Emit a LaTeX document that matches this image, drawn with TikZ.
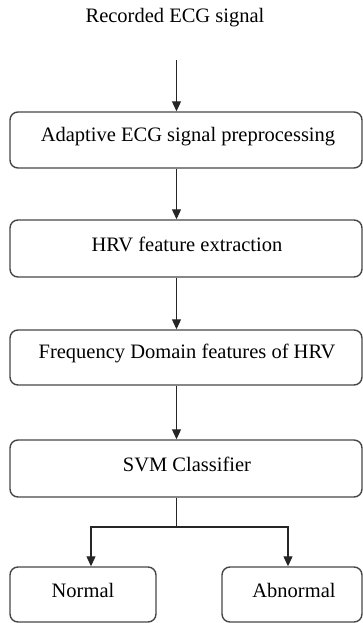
\documentclass[tikz,border=0pt]{standalone}
\usepackage{fontspec}
\setmainfont{Liberation Serif}
\usetikzlibrary{arrows.meta}
\begin{document}
\begin{tikzpicture}[x=1pt,y=-1pt,
  box/.style={draw=black!72,line width=1.4pt,rounded corners=8pt,inner sep=0pt},
  lbl/.style={font=\fontsize{20.5}{24}\selectfont},
  arr/.style={draw=black!85,line width=1.1pt,-{Triangle[length=10pt,width=9pt]}},
  ln/.style={draw=black!85,line width=1.1pt}]
\useasboundingbox (0,0) rectangle (363,623);
\coordinate (ax) at (176.5,0);
\node[lbl] (title) at (175,18) {Recorded ECG signal};
\coordinate (start) at (176.5,60);
\node[box,minimum width=352pt,minimum height=56pt] (b1) at (186,140) {};
\node[lbl] (t1) at (188,137) {Adaptive ECG signal preprocessing};
\node[box,minimum width=352pt,minimum height=57pt] (b2) at (186,248.5) {};
\node[lbl] (t2) at (187,244) {HRV feature extraction};
\node[box,minimum width=352pt,minimum height=55pt] (b3) at (186,357.5) {};
\node[lbl] (t3) at (187,353) {Frequency Domain features of HRV};
\node[box,minimum width=352pt,minimum height=57pt] (b4) at (186,468.5) {};
\node[lbl] (t4) at (187,464) {SVM Classifier};
\node[box,minimum width=146pt,minimum height=55pt] (n) at (83,594.5) {};
\node[lbl] (tn) at (83,590) {Normal};
\node[box,minimum width=140pt,minimum height=55pt] (ab) at (292,594.5) {};
\node[lbl] (tab) at (294,590) {Abnormal};
\coordinate (split) at (176.5,527);
\draw[arr] (start) -- (b1.north -| ax);
\draw[arr] (b1.south -| ax) -- (b2.north -| ax);
\draw[arr] (b2.south -| ax) -- (b3.north -| ax);
\draw[arr] (b3.south -| ax) -- (b4.north -| ax);
\draw[ln] (b4.south -| ax) -- (split);
\draw[arr] (split) -| ([xshift=8pt]n.north);
\draw[arr] (split) -| ([xshift=-4pt]ab.north);
\end{tikzpicture}
\end{document}
